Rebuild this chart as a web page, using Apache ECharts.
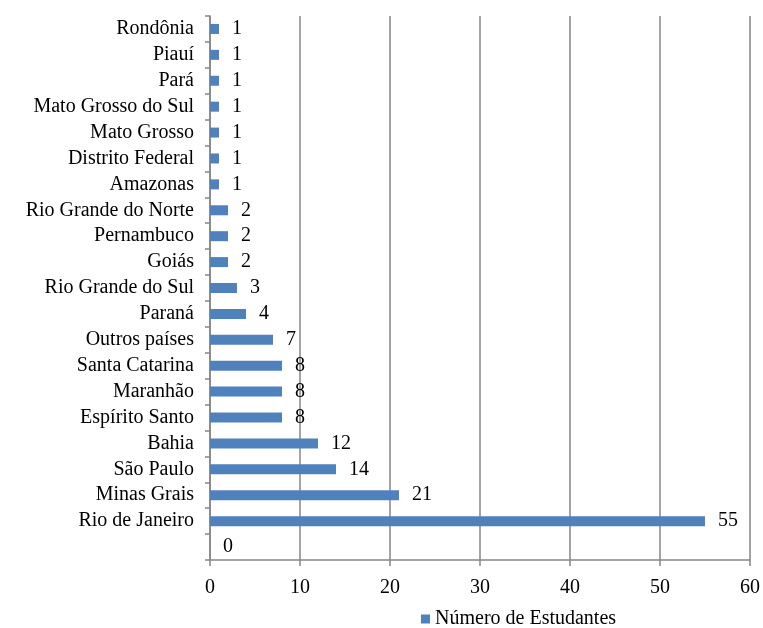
<!DOCTYPE html>
<html>
<head>
<meta charset="utf-8">
<script src="https://cdn.jsdelivr.net/npm/echarts@6/dist/echarts.min.js"></script>
<style>
  html, body { margin: 0; padding: 0; background: #fff; }
  #chart { width: 763px; height: 628px; }
</style>
</head>
<body>
<div id="chart"></div>
<script>
  // categories bottom -> top (first one is an empty category)
  var estados = ['', 'Rio de Janeiro', 'Minas Grais', 'São Paulo', 'Bahia', 'Espírito Santo',
    'Maranhão', 'Santa Catarina', 'Outros países', 'Paraná', 'Rio Grande do Sul', 'Goiás',
    'Pernambuco', 'Rio Grande do Norte', 'Amazonas', 'Distrito Federal', 'Mato Grosso',
    'Mato Grosso do Sul', 'Pará', 'Piauí', 'Rondônia'];
  var estudantes = [0, 55, 21, 14, 12, 8, 8, 8, 7, 4, 3, 2, 2, 2, 1, 1, 1, 1, 1, 1, 1];
  var xTicks = [0, 10, 20, 30, 40, 50, 60];

  var fonte = 'Liberation Serif';
  var tam = 20;
  var cinza = '#868686';

  var chart = echarts.init(document.getElementById('chart'));
  chart.setOption({
    animation: false,
    textStyle: { fontFamily: fonte, color: '#000' },
    grid: { left: 210, right: 11, top: 16, bottom: 68, containLabel: false },
    legend: {
      top: 609,
      left: 421,
      padding: 0,
      data: ['Número de Estudantes'],
      icon: 'rect',
      itemWidth: 9,
      itemHeight: 9,
      itemGap: 4,
      textStyle: { fontFamily: fonte, fontSize: tam, color: '#000' }
    },
    xAxis: {
      type: 'value',
      min: xTicks[0],
      max: xTicks[xTicks.length - 1],
      interval: 10,
      axisLine: { show: true, lineStyle: { color: cinza, width: 1.5 } },
      axisTick: { show: true, length: 6, lineStyle: { color: cinza, width: 1.5 } },
      splitLine: { show: true, lineStyle: { color: cinza, width: 1.5 } },
      axisLabel: { fontFamily: fonte, fontSize: tam, color: '#000', margin: 18 }
    },
    yAxis: {
      type: 'category',
      data: estados,
      axisLine: { show: true, lineStyle: { color: cinza, width: 1.5 } },
      axisTick: { show: true, length: 5, lineStyle: { color: cinza, width: 1.5 } },
      axisLabel: { fontFamily: fonte, fontSize: tam, color: '#000', margin: 16, interval: 0 }
    },
    series: [{
      name: 'Número de Estudantes',
      type: 'bar',
      data: estudantes,
      barWidth: 10,
      itemStyle: { color: '#4f81bd' },
      label: {
        show: true,
        position: 'right',
        distance: 13,
        fontFamily: fonte,
        fontSize: tam,
        color: '#000'
      }
    }]
  });
</script>
</body>
</html>
